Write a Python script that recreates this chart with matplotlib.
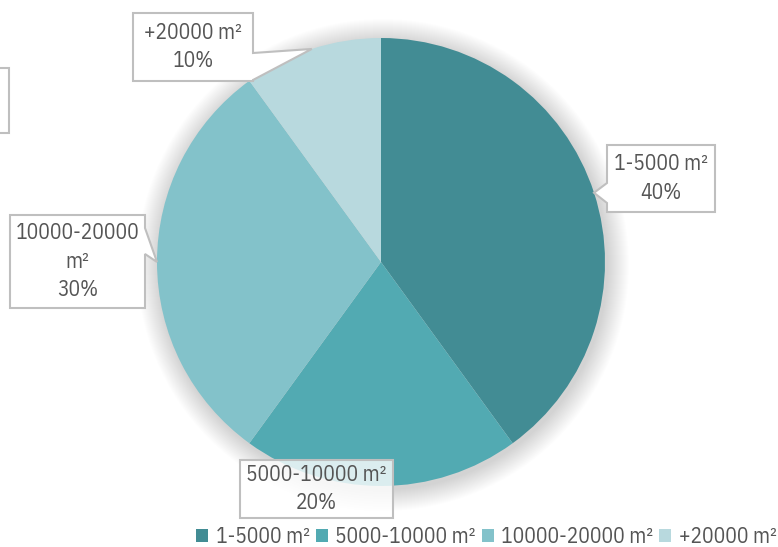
import numpy as np
import matplotlib.pyplot as plt
from matplotlib.patches import Polygon, Circle, Rectangle, Patch

labels = ["1-5000 m²", "5000-10000 m²", "10000-20000 m²", "+20000 m²"]
box_text = ["1-5000 m²\n40%", "5000-10000 m²\n20%", "10000-20000\nm²\n30%", "+20000 m²\n10%"]
shares = [40, 20, 30, 10]
colors = ["#428c94", "#52aab2", "#83c2ca", "#b8d9de"]

W, H = 778, 547
plt.rcParams['font.family'] = ['IBM Plex Sans Condensed', 'DejaVu Sans']
fig = plt.figure(figsize=(W / 100, H / 100), dpi=100)
ax = fig.add_axes([0, 0, 1, 1])

cx, cy, R = 381, H - 262, 224

# soft shadow round the pie
for k in range(22, 0, -1):
    ax.add_patch(Circle((cx + 2, cy - 3), R + k, color="black", alpha=0.006, lw=0, zorder=0))

wedges, _ = ax.pie(shares, colors=colors, startangle=90, counterclock=False,
                   center=(cx, cy), radius=R, wedgeprops=dict(lw=0), frame=True)
for w in wedges:
    w.set_zorder(2)

# callout boxes: (x0, x1, top, bottom) in pixels, side of pointer, pointer base span (top, bottom)
boxes = [
    (607, 715, 145, 212, "left", (183, 203)),
    (240, 393, 460, 518, None, None),
    (10, 145, 215, 308, "right", (228, 254)),
    (133, 253, 13, 81, "right", (53, 80)),
]
tcol = "#555555"
start = 90.0
for i, s in enumerate(shares):
    ang = np.deg2rad(start - s * 3.6 / 2)
    start -= s * 3.6
    tip = (cx + R * np.cos(ang), cy + R * np.sin(ang))
    x0, x1, top, bot, side, span = boxes[i]
    yt, yb = H - top, H - bot
    if side == "left":
        pts = [(x0, yt), (x1, yt), (x1, yb), (x0, yb), (x0, H - span[1]), tip, (x0, H - span[0])]
    elif side == "right":
        pts = [(x0, yt), (x1, yt), (x1, H - span[0]), tip, (x1, H - span[1]), (x1, yb), (x0, yb)]
    else:
        pts = [(x0, yt), (x1, yt), (x1, yb), (x0, yb)]
    fa = 0.8 if side is None else 1.0
    ax.add_patch(Polygon(pts, closed=True, fc=(1, 1, 1, fa), ec="#bfbfbf", lw=1.5, zorder=5))
    ax.text((x0 + x1) / 2, (yt + yb) / 2, box_text[i], ha="center", va="center",
            fontsize=15.5, color=tcol, linespacing=1.4, zorder=6)

# cut-off box at the left edge
ax.add_patch(Rectangle((-40, H - 133), 49, 65, fc="white", ec="#bfbfbf", lw=1.5, zorder=5))

ax.set_xlim(0, W)
ax.set_ylim(0, H)
ax.set_aspect("auto")
ax.axis("off")

handles = [Patch(fc=c, ec="none") for c in colors]
fig.legend(handles, labels, loc="center right", bbox_to_anchor=(1.012, 1 - 537 / H), ncol=4,
           frameon=False, fontsize=15.5, labelcolor=tcol, handlelength=0.55, handleheight=0.55,
           handletextpad=0.35, columnspacing=0.28, borderpad=0)

fig.savefig("out.png", dpi=100)
